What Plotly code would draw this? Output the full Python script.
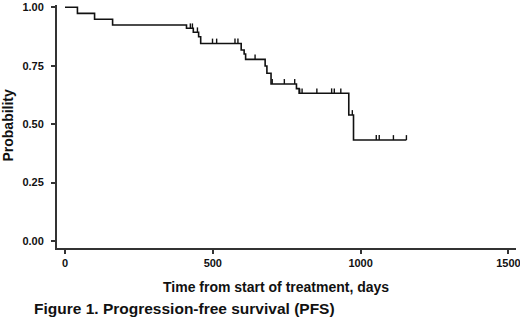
import numpy as np
import plotly.graph_objects as go

# Kaplan-Meier step curve (time in days, survival probability)
step_times = [0, 42, 100, 161, 411, 434, 452, 459, 596, 606, 611, 677, 683, 697, 783, 792, 960, 976]
step_probs = [1.0, 0.974, 0.949, 0.924, 0.91, 0.893, 0.874, 0.845, 0.817, 0.80, 0.777, 0.749, 0.718, 0.672, 0.652, 0.632, 0.539, 0.432]
end_time = 1155

# Censored observations (days)
censor_times = [424, 431, 448, 499, 513, 575, 585, 643, 701, 742, 777, 794, 802, 852, 902, 911, 933, 972, 1053, 1063, 1111, 1155]

x_ticks = [0, 500, 1000, 1500]
y_ticks = [0, 0.25, 0.5, 0.75, 1.0]
y_tick_labels = ["0.00", "0.25", "0.50", "0.75", "1.00"]

FONT = "Liberation Sans, Arial"
INK = "#111111"
AX = "#333333"

fig = go.Figure()
fig.add_trace(go.Scatter(
    x=step_times + [end_time], y=step_probs + [step_probs[-1]],
    mode="lines", line=dict(color=INK, width=1.6, shape="hv"),
    hoverinfo="skip", showlegend=False, cliponaxis=False))

# censor marks: short vertical ticks above the curve
st = np.array(step_times)
sp = np.array(step_probs)
cx, cy = [], []
tick_h = 0.021
for t in censor_times:
    p = sp[np.searchsorted(st, t, side="right") - 1]
    cx += [t, t, None]
    cy += [p, p + tick_h, None]
fig.add_trace(go.Scatter(x=cx, y=cy, mode="lines",
                         line=dict(color=INK, width=1.4),
                         hoverinfo="skip", showlegend=False))

fig.update_layout(
    width=520, height=320,
    margin=dict(l=57, r=4, t=5, b=72, autoexpand=False),
    paper_bgcolor="white", plot_bgcolor="white",
    font=dict(family=FONT, color=INK),
    xaxis=dict(range=[-27.1, 1525.7], tickvals=x_ticks, ticktext=[str(v) for v in x_ticks],
               automargin=False, ticklabeloverflow="allow",
               showgrid=False, zeroline=False, showline=True, linecolor=AX, linewidth=2,
               ticks="outside", ticklen=4, tickwidth=1.5, tickcolor=AX,
               tickfont=dict(family=FONT, size=11, color=INK, weight="bold")),
    yaxis=dict(range=[-0.03, 1.0098], tickvals=y_ticks, ticktext=y_tick_labels,
               automargin=False, ticklabeloverflow="allow",
               showgrid=False, zeroline=False, showline=True, linecolor=AX, linewidth=2,
               ticks="outside", ticklen=4, tickwidth=1.5, tickcolor=AX,
               ticklabelstandoff=5,
               tickfont=dict(family=FONT, size=11, color=INK, weight="bold")),
    annotations=[
        dict(text="<b>Time from start of treatment, days</b>", xref="paper", yref="paper",
             x=0.478, y=-0.159, xanchor="center", yanchor="middle", showarrow=False,
             font=dict(family=FONT, size=14, color=INK)),
        dict(text="<b>Probability</b>", xref="paper", yref="paper", textangle=-90,
             x=-0.1057, y=0.506, xanchor="center", yanchor="middle", showarrow=False,
             font=dict(family=FONT, size=14, color=INK)),
        dict(text="<b>Figure 1. Progression-free survival (PFS)</b>", xref="paper", yref="paper",
             x=-0.0545, y=-0.247, xanchor="left", yanchor="middle", showarrow=False,
             font=dict(family=FONT, size=15.5, color=INK)),
    ],
)

# remove the page's default 8px body margin so the figure sits at the window's corner
fig.write_html("out.html", config={"displayModeBar": False},
               post_script="document.body.style.margin='0';")
